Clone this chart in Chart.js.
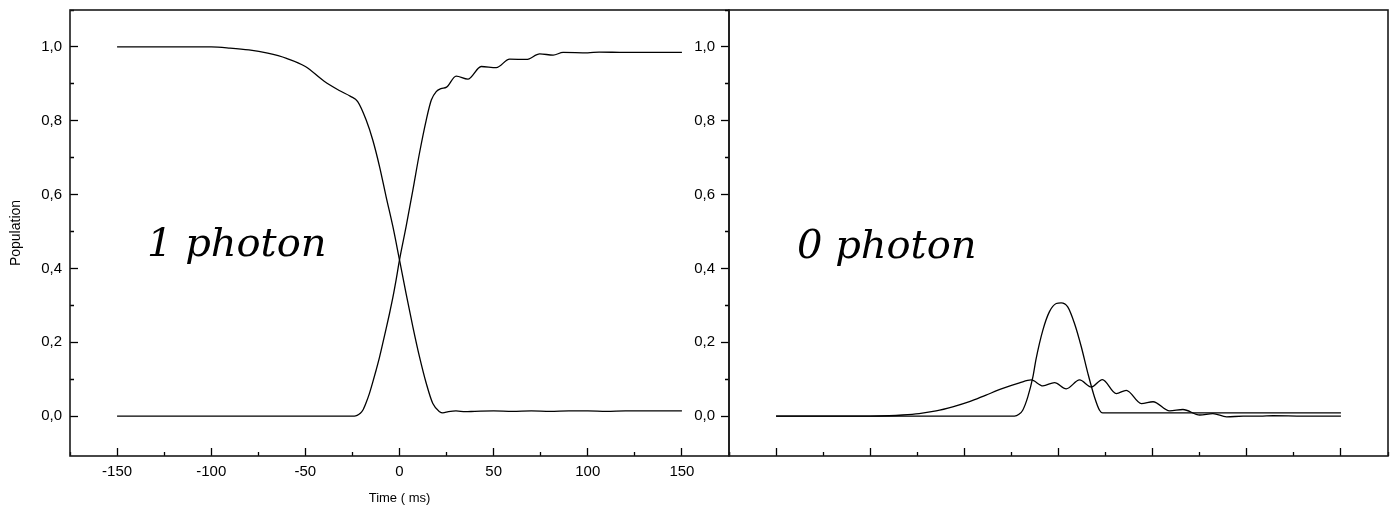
<!DOCTYPE html>
<html><head><meta charset="utf-8">
<script src="https://cdn.jsdelivr.net/npm/chart.js@4.4.1/dist/chart.umd.min.js"></script>
<style>
html,body{margin:0;padding:0;background:#fff;}
#wrap{position:relative;width:1394px;height:508px;overflow:hidden;background:#fff;}
#c1{position:absolute;left:0;top:0;width:740px;height:508px;}
#c2{position:absolute;left:680px;top:0;width:714px;height:508px;}
</style></head><body>
<div id="wrap"><canvas id="c1" width="740" height="508"></canvas><canvas id="c2" width="714" height="508"></canvas></div>
<script>
// ---- Data (time in µs, population) ----
// Left panel: "1 photon"
const tDown = [-150, -100, -90, -80, -70, -60, -50, -40, -32, -26, -22.2, -17.7, -14.2, -10.6, -7.1, -3.5, 0, 3.5, 7.1, 10.6, 14.2, 17.7, 21.3, 23, 26, 30, 35, 40, 50, 60, 70, 80, 90, 100, 110, 120, 130, 140, 150];
const popDown = [1.0, 1.0, 0.997, 0.992, 0.983, 0.969, 0.947, 0.907, 0.882, 0.866, 0.852, 0.802, 0.748, 0.676, 0.594, 0.513, 0.423, 0.332, 0.242, 0.161, 0.089, 0.034, 0.012, 0.009, 0.012, 0.014, 0.012, 0.013, 0.014, 0.013, 0.014, 0.013, 0.014, 0.014, 0.013, 0.014, 0.014, 0.014, 0.014];
const tUp = [-150, -24, -22.5, -21, -19.5, -17.7, -16, -14.2, -12.4, -10.6, -8.9, -7.1, -5.3, -3.5, -1.8, 0, 3.5, 7.1, 10.6, 14.2, 16.9, 19.5, 22, 25, 30.1, 36.3, 43.4, 51.4, 58.5, 67.4, 74.5, 81.6, 86.9, 100, 106, 120, 150];
const popUp = [0, 0, 0.002, 0.007, 0.016, 0.037, 0.061, 0.092, 0.125, 0.16, 0.197, 0.237, 0.278, 0.322, 0.369, 0.423, 0.513, 0.612, 0.712, 0.802, 0.856, 0.879, 0.887, 0.891, 0.921, 0.913, 0.947, 0.944, 0.967, 0.966, 0.981, 0.978, 0.985, 0.984, 0.986, 0.985, 0.985];
// Right panel: "0 photon"
const tPeak = [-150, -23.4, -21, -19, -16.3, -13.6, -11.9, -8.3, -4.8, -1.2, 1.4, 4.9, 8.5, 12.1, 15.6, 19.1, 21.8, 23.4, 60, 100, 150];
const popPeak = [0, 0, 0.005, 0.016, 0.052, 0.106, 0.155, 0.233, 0.283, 0.305, 0.307, 0.296, 0.251, 0.188, 0.116, 0.052, 0.016, 0.009, 0.009, 0.009, 0.009];
const tBroad = [-150, -100, -90, -82.8, -74, -65, -56.2, -47.3, -38.5, -29.6, -20.7, -14.5, -8.3, -2.1, 4.1, 11.2, 17.4, 23.3, 30.7, 36, 44, 50.2, 59, 66.1, 75, 82, 89.3, 98, 107, 114, 130, 150];
const popBroad = [0, 0, 0.001, 0.003, 0.007, 0.014, 0.025, 0.039, 0.057, 0.075, 0.09, 0.098, 0.082, 0.091, 0.074, 0.098, 0.079, 0.099, 0.061, 0.07, 0.034, 0.039, 0.014, 0.018, 0.003, 0.007, -0.002, 0, 0, 0.001, 0, 0];

// ---- Ticks ----
const xMajorTicks = [-150, -100, -50, 0, 50, 100, 150];
const xTickLabels = ['-150', '-100', '-50', '0', '50', '100', '150'];
const xMinorTicks = [-175, -125, -75, -25, 25, 75, 125, 175];
const yMajorTicks = [0, 0.2, 0.4, 0.6, 0.8, 1.0];
const yTickLabels = ['0,0', '0,2', '0,4', '0,6', '0,8', '1,0'];
const yMinorTicks = [0.1, 0.3, 0.5, 0.7, 0.9, 1.1];

const xAll = xMajorTicks.concat(xMinorTicks).sort((a, b) => a - b);
const yAll = yMajorTicks.concat(yMinorTicks).sort((a, b) => a - b);
const near = (a, b) => Math.abs(a - b) < 1e-9;
const isMajor = (v, majors) => majors.some(m => near(m, v));
const labelFor = (v, majors, labels) => { const i = majors.findIndex(m => near(m, v)); return i >= 0 ? labels[i] : ''; };
const pts = (xs, ys) => xs.map((x, i) => ({x: x, y: ys[i]}));

Chart.defaults.font.family = "'Liberation Sans', Arial, sans-serif";
Chart.defaults.color = '#000';

const framePlugin = {
  id: 'frame',
  afterDatasetsDraw(chart) {
    const {ctx, chartArea: a} = chart;
    ctx.save();
    ctx.strokeStyle = '#1a1a1a';
    ctx.lineWidth = 1.6;
    ctx.strokeRect(a.left, a.top, a.right - a.left, a.bottom - a.top);
    ctx.restore();
  }
};
const annotatePlugin = {
  id: 'annotate',
  afterDraw(chart, args, opts) {
    const ctx = chart.ctx;
    ctx.save();
    ctx.font = 'italic 40px "DejaVu Serif"';
    ctx.fillStyle = '#000';
    ctx.textBaseline = 'alphabetic';
    ctx.fillText(opts.text, opts.x, opts.y);
    ctx.restore();
  }
};

function lineDs(xs, ys) {
  return {
    data: pts(xs, ys), borderColor: '#000', borderWidth: 1.3, pointRadius: 0,
    cubicInterpolationMode: 'monotone', fill: false
  };
}
function zeroPad(s) { s.paddingLeft = 0; s.paddingRight = 0; s.paddingTop = 0; s.paddingBottom = 0; }

function makeOptions(panel) {
  const left = panel === 'left';
  return {
    responsive: false, animation: false, devicePixelRatio: 1, events: [],
    layout: {padding: left ? {top: 10, right: 11, left: 0, bottom: 0} : {top: 10, right: 6, left: 0, bottom: 0}},
    plugins: {
      legend: {display: false}, tooltip: {enabled: false},
      annotate: left ? {text: '1 photon', x: 147, y: 256} : {text: '0 photon', x: 117, y: 258}
    },
    scales: {
      x: {
        type: 'linear', position: 'bottom', min: -175, max: 175,
        afterBuildTicks: s => { s.ticks = xAll.map(v => ({value: v})); },
        afterFit: s => { s.height = 52; zeroPad(s); },
        ticks: {
          autoSkip: false, maxRotation: 0, minRotation: 0, padding: 15,
          font: {size: 15}, color: '#000',
          callback: v => left ? labelFor(v, xMajorTicks, xTickLabels) : ''
        },
        grid: {
          drawOnChartArea: false, drawTicks: true, tickLength: -8, tickWidth: 1.3, tickColor: '#000',
          tickBorderDash: c => (c.tick && isMajor(c.tick.value, xMajorTicks)) ? [] : [4, 60]
        },
        border: {display: false},
        title: left ? {display: true, text: 'Time ( ms)', font: {size: 13}, color: '#000', padding: {top: 0, bottom: 2}} : {display: false}
      },
      y: {
        type: 'linear', position: 'left', min: -0.108, max: 1.1,
        afterBuildTicks: s => { s.ticks = yAll.map(v => ({value: v})); },
        afterFit: s => { s.width = left ? 70 : 49; zeroPad(s); },
        ticks: {
          autoSkip: false, padding: left ? 16 : 6, font: {size: 15}, color: '#000',
          callback: v => labelFor(v, yMajorTicks, yTickLabels)
        },
        grid: {
          drawOnChartArea: false, drawTicks: true, tickLength: left ? -8 : 8, tickWidth: 1.3, tickColor: '#000',
          tickBorderDash: c => (c.tick && isMajor(c.tick.value, yMajorTicks)) ? [] : [0, 4, 4, 60]
        },
        border: {display: false},
        title: left ? {display: true, text: 'Population', font: {size: 14}, color: '#000', padding: {top: 8, bottom: 0}} : {display: false}
      }
    }
  };
}

new Chart(document.getElementById('c1'), {
  type: 'line',
  data: {datasets: [lineDs(tDown, popDown), lineDs(tUp, popUp)]},
  options: makeOptions('left'),
  plugins: [framePlugin, annotatePlugin]
});
new Chart(document.getElementById('c2'), {
  type: 'line',
  data: {datasets: [lineDs(tBroad, popBroad), lineDs(tPeak, popPeak)]},
  options: makeOptions('right'),
  plugins: [framePlugin, annotatePlugin]
});
</script>
</body></html>
